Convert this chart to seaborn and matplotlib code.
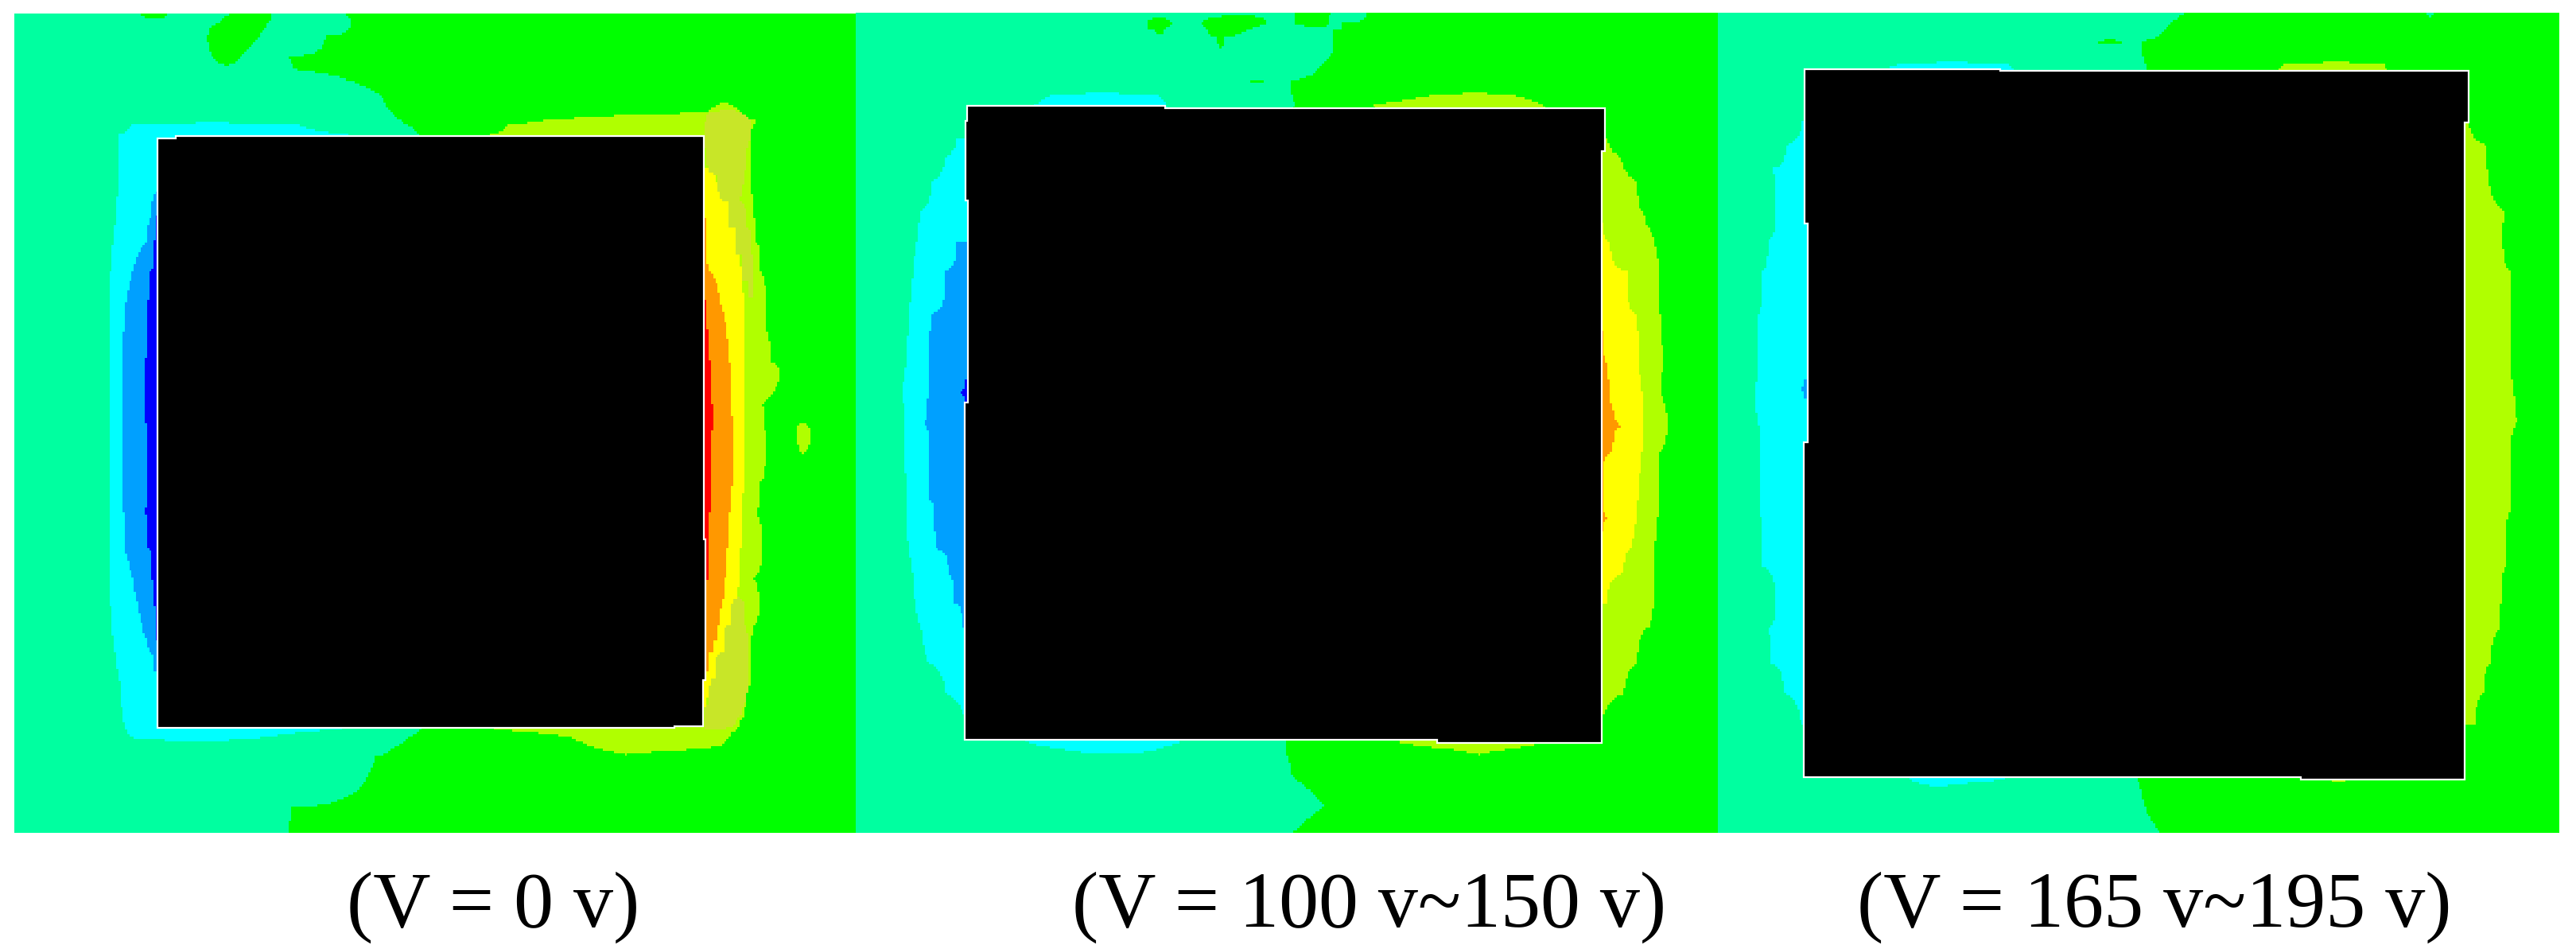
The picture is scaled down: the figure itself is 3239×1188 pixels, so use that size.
import numpy as np
import seaborn as sns
import matplotlib
matplotlib.use("Agg")
import matplotlib.pyplot as plt
from matplotlib.colors import ListedColormap

# Level classes: 0 blue, 1 azure, 2 cyan, 3 spring green, 4 green, 5 lime,
# 6 yellow, 7 orange, 8 red, 9 olive
level_colors = ["#0000ff", "#00a0ff", "#00ffff", "#00ffa0", "#00ff00",
                "#b0ff00", "#ffff00", "#ff9800", "#ff0000", "#c8e628"]
labels = ["(V = 0 v)", "(V = 100 v~150 v)", "(V = 165 v~195 v)"]

# Each row: y, then class, boundary x, class, boundary x, class ...
rows_0v = [
    [22, 3, 250, 4, 305, 3, 415, 4, 492, 3, 615, 4],
    [38, 3, 395, 4, 485, 3, 635, 4],
    [60, 3, 375, 4, 468, 3, 590, 4],
    [95, 3, 385, 4, 435, 3, 522, 4],
    [115, 3, 530, 4],
    [130, 3, 620, 4],
    [155, 3, 685, 4],
    [185, 3, 705, 4, 1280, 5, 1340, 4],
    [200, 3, 725, 4, 980, 5, 1365, 4],
    [207, 3, 240, 2, 540, 3, 735, 4, 920, 5, 1365, 4],
    [224, 3, 215, 2, 630, 3, 760, 4, 885, 5, 1357, 4],
    [280, 3, 215, 2, 780, 6, 1294, 5, 1357, 4],
    [320, 3, 213, 2, 282, 1, 780, 6, 1312, 5, 1360, 4],
    [360, 3, 210, 2, 275, 1, 282, 0, 780, 7, 1276, 6, 1325, 5, 1362, 4],
    [400, 3, 207, 2, 265, 1, 280, 0, 780, 7, 1278, 6, 1333, 5, 1368, 4],
    [450, 3, 200, 2, 240, 1, 270, 0, 780, 7, 1286, 6, 1342, 5, 1376, 4],
    [500, 3, 198, 2, 228, 1, 268, 0, 780, 8, 1278, 7, 1302, 6, 1345, 5, 1386, 4],
    [550, 3, 198, 2, 224, 1, 265, 0, 780, 8, 1282, 7, 1315, 6, 1345, 5, 1388, 4],
    [600, 3, 198, 2, 222, 1, 262, 0, 780, 8, 1285, 7, 1320, 6, 1345, 5, 1395, 4],
    [620, 3, 198, 2, 222, 1, 262, 0, 780, 8, 1286, 7, 1322, 6, 1345, 5, 1412, 4],
    [670, 3, 198, 2, 222, 1, 263, 0, 780, 8, 1288, 7, 1323, 6, 1345, 5, 1378, 4],
    [702, 3, 198, 2, 222, 1, 264, 0, 780, 8, 1288, 7, 1325, 6, 1345, 5, 1382, 4, 1448, 5, 1452, 4],
    [715, 3, 198, 2, 222, 1, 265, 0, 780, 8, 1288, 7, 1325, 6, 1345, 5, 1384, 4, 1440, 5, 1468, 4],
    [750, 3, 198, 2, 222, 1, 265, 0, 780, 8, 1287, 7, 1325, 6, 1345, 5, 1385, 4, 1448, 5, 1456, 4],
    [760, 3, 198, 2, 222, 1, 265, 0, 780, 8, 1286, 7, 1325, 6, 1345, 5, 1385, 4],
    [800, 3, 198, 2, 222, 1, 265, 0, 780, 8, 1285, 7, 1325, 6, 1345, 5, 1375, 4],
    [850, 3, 198, 2, 224, 1, 262, 0, 780, 8, 1284, 7, 1320, 6, 1342, 5, 1368, 4],
    [910, 3, 198, 2, 226, 1, 268, 0, 780, 8, 1283, 7, 1316, 6, 1340, 5, 1380, 4],
    [960, 3, 200, 2, 240, 1, 275, 0, 780, 8, 1282, 7, 1312, 6, 1337, 5, 1362, 4],
    [1007, 3, 200, 2, 250, 1, 280, 0, 780, 7, 1307, 6, 1331, 5, 1375, 4],
    [1038, 3, 203, 2, 258, 1, 283, 0, 780, 7, 1302, 6, 1321, 5, 1361, 4],
    [1060, 3, 205, 2, 265, 1, 284, 0, 780, 7, 1297, 6, 1315, 5, 1358, 4],
    [1082, 3, 208, 2, 272, 1, 780, 7, 1290, 6, 1309, 5, 1357, 4],
    [1113, 3, 213, 2, 280, 1, 780, 7, 1280, 6, 1298, 5, 1360, 4],
    [1126, 3, 215, 2, 780, 6, 1292, 5, 1357, 4],
    [1152, 3, 218, 2, 780, 6, 1285, 5, 1352, 4],
    [1174, 3, 220, 2, 780, 6, 1278, 5, 1347, 4],
    [1190, 3, 222, 2, 780, 5, 1344, 4],
    [1209, 3, 225, 2, 620, 3, 760, 4, 885, 5, 1335, 4],
    [1223, 3, 235, 2, 480, 3, 738, 4, 1030, 5, 1318, 4],
    [1238, 3, 720, 4, 1070, 5, 1303, 4],
    [1250, 3, 700, 4, 1125, 5, 1140, 4],
    [1255, 3, 680, 4],
    [1305, 3, 655, 4],
    [1332, 3, 600, 4],
    [1340, 3, 525, 4],
    [1382, 3, 522, 4],
]
rows_100v = [
    [21, 3, 795, 4, 860, 3, 925, 4],
    [38, 3, 530, 4, 575, 3, 625, 4, 745, 3, 795, 4, 855, 3, 880, 4],
    [50, 3, 545, 4, 560, 3, 640, 4, 710, 3, 865, 4],
    [62, 3, 655, 4, 670, 3, 865, 4],
    [90, 3, 862, 4],
    [93, 3, 858, 4],
    [97, 3, 855, 4, 1280, 3, 1295, 4],
    [101, 3, 850, 4],
    [125, 3, 825, 4],
    [132, 3, 800, 4],
    [135, 3, 718, 4, 740, 3, 790, 4],
    [138, 3, 790, 4],
    [150, 3, 790, 4],
    [158, 3, 360, 2, 550, 3, 790, 4, 1040, 5, 1190, 4],
    [174, 3, 330, 2, 565, 3, 795, 4, 935, 5, 1240, 4],
    [230, 3, 190, 2, 780, 5, 1355, 4],
    [260, 3, 170, 2, 780, 5, 1380, 4],
    [300, 3, 145, 2, 780, 5, 1408, 4],
    [350, 3, 125, 2, 780, 5, 1418, 4],
    [370, 3, 122, 2, 780, 6, 1348, 5, 1425, 4],
    [400, 3, 118, 2, 190, 1, 780, 6, 1360, 5, 1440, 4],
    [450, 3, 112, 2, 170, 1, 780, 6, 1390, 5, 1448, 4],
    [520, 3, 105, 2, 145, 1, 780, 6, 1408, 5, 1450, 4],
    [550, 3, 103, 2, 142, 1, 780, 7, 1348, 6, 1410, 5, 1452, 4],
    [600, 3, 100, 2, 140, 1, 780, 7, 1355, 6, 1412, 5, 1455, 4],
    [630, 3, 95, 2, 140, 1, 205, 0, 780, 7, 1358, 6, 1415, 5, 1452, 4],
    [650, 3, 90, 2, 140, 1, 190, 0, 780, 7, 1360, 6, 1418, 5, 1450, 4],
    [670, 3, 95, 2, 135, 1, 205, 0, 780, 7, 1365, 6, 1420, 5, 1458, 4],
    [705, 3, 98, 2, 130, 1, 780, 7, 1385, 6, 1422, 5, 1465, 4],
    [750, 3, 95, 2, 140, 1, 780, 7, 1365, 6, 1418, 5, 1450, 4],
    [785, 3, 98, 2, 140, 1, 780, 7, 1348, 6, 1414, 5, 1450, 4],
    [830, 3, 100, 2, 142, 1, 780, 7, 1348, 6, 1410, 5, 1450, 4],
    [860, 3, 98, 2, 148, 1, 780, 7, 1360, 6, 1408, 5, 1445, 4],
    [880, 3, 100, 2, 150, 1, 780, 7, 1348, 6, 1404, 5, 1443, 4],
    [910, 3, 105, 2, 150, 1, 780, 6, 1400, 5, 1440, 4],
    [950, 3, 110, 2, 175, 1, 780, 6, 1385, 5, 1440, 4],
    [1000, 3, 115, 2, 185, 1, 780, 6, 1355, 5, 1440, 4],
    [1040, 3, 125, 2, 200, 1, 780, 5, 1430, 4],
    [1100, 3, 140, 2, 780, 5, 1408, 4],
    [1150, 3, 170, 2, 780, 5, 1385, 4],
    [1185, 3, 200, 2, 780, 5, 1350, 4],
    [1232, 3, 320, 2, 590, 3, 778, 4, 985, 5, 1240, 4],
    [1245, 3, 400, 2, 540, 3, 780, 4, 1100, 5, 1150, 4],
    [1258, 3, 785, 4],
    [1285, 3, 790, 4],
    [1313, 3, 825, 4],
    [1317, 3, 830, 4, 1312, 3, 1350, 4],
    [1321, 3, 835, 4],
    [1335, 3, 850, 4],
    [1382, 3, 790, 4],
]
rows_165v = [
    [21, 3, 860, 4, 1298, 3, 1312, 4],
    [35, 3, 840, 4],
    [60, 3, 815, 4],
    [66, 3, 795, 4],
    [70, 3, 700, 4, 745, 3, 780, 4],
    [74, 3, 782, 4],
    [85, 3, 783, 4],
    [100, 3, 785, 4],
    [105, 3, 345, 2, 540, 3, 788, 4, 1040, 5, 1220, 4],
    [114, 3, 320, 2, 550, 3, 790, 4, 1030, 5, 1225, 4],
    [200, 3, 168, 2, 780, 5, 1372, 4],
    [240, 3, 140, 2, 780, 5, 1405, 4],
    [280, 3, 112, 2, 780, 5, 1408, 4],
    [350, 3, 120, 2, 780, 5, 1440, 4],
    [400, 3, 105, 2, 780, 5, 1435, 4],
    [450, 3, 95, 2, 780, 5, 1452, 4],
    [520, 3, 88, 2, 780, 5, 1452, 4],
    [630, 3, 85, 2, 172, 1, 780, 5, 1452, 4],
    [645, 3, 80, 2, 160, 1, 780, 5, 1455, 4],
    [660, 3, 82, 2, 172, 1, 780, 5, 1458, 4],
    [700, 3, 85, 2, 780, 5, 1465, 4],
    [750, 3, 92, 2, 780, 5, 1450, 4],
    [850, 3, 90, 2, 780, 5, 1448, 4],
    [940, 3, 95, 2, 780, 5, 1440, 4],
    [1000, 3, 120, 2, 780, 5, 1432, 4],
    [1045, 3, 102, 2, 780, 5, 1430, 4],
    [1100, 3, 112, 2, 780, 5, 1412, 4],
    [1150, 3, 135, 2, 780, 5, 1400, 4],
    [1200, 3, 165, 2, 780, 5, 1385, 4],
    [1235, 3, 780, 4],
    [1292, 3, 360, 2, 535, 3, 772, 4, 1105, 5, 1170, 4],
    [1300, 3, 385, 2, 445, 3, 778, 4],
    [1310, 3, 780, 4],
    [1345, 3, 790, 4],
    [1382, 3, 815, 4],
]
# Olive patches in the first panel: y, then 0, x start, 1, x end, 0
olive_0v = [
    [178, 0, 1300, 0],
    [185, 0, 1299, 1, 1335, 0],
    [202, 0, 1278, 1, 1359, 0],
    [224, 0, 1273, 1, 1357, 0],
    [246, 0, 1278, 1, 1352, 0],
    [290, 0, 1299, 1, 1345, 0],
    [334, 0, 1316, 1, 1335, 0],
    [378, 0, 1328, 1, 1352, 0],
    [422, 0, 1340, 1, 1359, 0],
    [466, 0, 1355, 1, 1364, 0],
    [493, 0, 1358, 1, 1362, 0],
    [498, 0, 1370, 0],
    [985, 0, 1370, 0],
    [994, 0, 1335, 1, 1340, 0],
    [1038, 0, 1323, 1, 1347, 0],
    [1082, 0, 1309, 1, 1355, 0],
    [1126, 0, 1292, 1, 1355, 0],
    [1170, 0, 1283, 1, 1345, 0],
    [1192, 0, 1275, 1, 1333, 0],
    [1209, 0, 1275, 1, 1310, 0],
    [1214, 0, 1300, 0],
]
box_0v_x = [285, 318, 318, 1273, 1273, 1276, 1276, 1272, 1272, 1220, 1220, 285]
box_0v_y = [230, 230, 226, 226, 895, 895, 1128, 1128, 1205, 1205, 1208, 1208]
box_100v_x = [208, 563, 563, 1351, 1351, 1346, 1346, 1050, 1050, 204, 204, 209, 209, 205, 205, 208]
box_100v_y = [175, 175, 179, 179, 250, 250, 1232, 1232, 1227, 1227, 668, 668, 332, 332, 200, 200]
box_165v_x = [171, 525, 525, 1373, 1373, 1367, 1367, 1070, 1070, 170, 170, 177, 177, 171]
box_165v_y = [115, 115, 118, 118, 203, 203, 1292, 1292, 1288, 1288, 733, 733, 371, 371]

W, H = 3239, 1188
CELL = 4.0
Y_SCALE = 1568 / 1188


def profile(row, xs):
    """Piecewise profile of one row: class in the middle of a run, half-way at a boundary."""
    runs = row[1:]
    classes = runs[0::2]
    bounds = runs[1::2]
    edges = [xs[0]] + bounds + [xs[-1]]
    xp, fp = [], []
    for k, c in enumerate(classes):
        xp.append((edges[k] + edges[k + 1]) / 2)
        fp.append(c)
        if k < len(bounds):
            xp.append(bounds[k])
            fp.append((c + classes[k + 1]) / 2)
    return np.interp(xs, xp, fp)


def raster(rows, xs, ys):
    ry = [r[0] for r in rows]
    prof = np.array([profile(r, xs) for r in rows])
    out = np.empty((len(ys), len(xs)))
    for j in range(len(xs)):
        out[:, j] = np.interp(ys, ry, prof[:, j])
    return out


sns.set_theme(style="white")
plt.rcParams["font.family"] = ["Liberation Serif", "DejaVu Serif"]
fig = plt.figure(figsize=(W / 100, H / 100), dpi=100, facecolor="white")
cmap = ListedColormap(level_colors)

panels = [
    (rows_0v, box_0v_x, box_0v_y, 0, 1568 / 1090, 26, 1550, 22, 1382, olive_0v, 620),
    (rows_100v, box_100v_x, box_100v_y, 1070, 1568 / 1100, 8, 1556, 21, 1382, None, 1722),
    (rows_165v, box_165v_x, box_165v_y, 2150, 1568 / 1089, 14, 1538, 21, 1382, None, 2709),
]
for (rows, bx, by, ox, sx, x0, x1, y0, y1, olive, tx), lab in zip(panels, labels):
    px0, px1 = ox + x0 / sx, ox + x1 / sx
    py0, py1 = y0 / Y_SCALE, y1 / Y_SCALE
    ax = fig.add_axes([px0 / W, 1 - py1 / H, (px1 - px0) / W, (py1 - py0) / H])
    xs = np.arange(x0 + CELL / 2, x1, CELL)
    ys = np.arange(y0 + CELL / 2, y1, CELL)
    grid = np.clip(np.rint(raster(rows, xs, ys)), 0, 8)
    if olive is not None:
        grid[raster(olive, xs, ys) > 0.5] = 9
    sns.heatmap(grid, ax=ax, cmap=cmap, vmin=-0.5, vmax=9.5, cbar=False,
                xticklabels=False, yticklabels=False, square=False)
    ax.set_xlabel("")
    ax.set_ylabel("")
    ax.tick_params(left=False, bottom=False)
    ax.fill((np.array(bx) - x0) / CELL, (np.array(by) - y0) / CELL,
            facecolor="black", edgecolor="white", linewidth=1.6, zorder=5)
    ax.set_xlim(0, len(xs))
    ax.set_ylim(len(ys), 0)
    for s in ax.spines.values():
        s.set_visible(False)
    fig.text(tx / W, 1 - 1165 / H, lab, ha="center", va="baseline",
             fontsize=72, color="black")

fig.savefig("out.png", dpi=100, facecolor="white")
